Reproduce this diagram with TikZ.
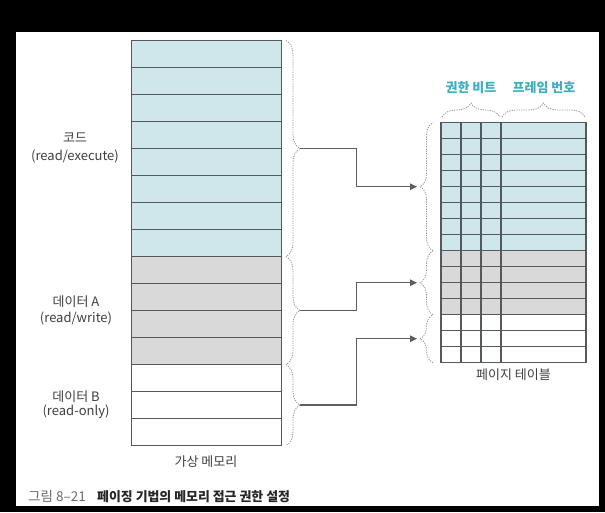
\documentclass[tikz,border=0pt]{standalone}
\usepackage{fontspec}
\setmainfont{Noto Sans CJK KR}
\usetikzlibrary{decorations.pathreplacing,arrows.meta}
\definecolor{cellblue}{HTML}{CFE6EA}
\definecolor{cellgray}{HTML}{D9D9D9}
\definecolor{gridline}{HTML}{535A5E}
\definecolor{labelteal}{HTML}{3AAFC2}
\definecolor{txtgray}{HTML}{3F3F3F}
\definecolor{capgray}{HTML}{6A6A6A}
\definecolor{arrgray}{HTML}{5E5E5E}
\definecolor{bracegray}{HTML}{939393}
\tikzset{
  gridl/.style={draw=gridline, line width=1.3pt},
  dbrace/.style={draw=bracegray, line width=0.8pt, dash pattern=on 1.2pt off 1.2pt,
    decorate, decoration={brace, amplitude=#1}},
  conn/.style={draw=arrgray, line width=1.3pt, -{Triangle[length=7pt,width=6.5pt]}},
  lbl/.style={inner sep=0pt, text=txtgray, font=\fontsize{13}{15}\selectfont},
  hdr/.style={inner sep=0pt, text=labelteal, font=\fontsize{13}{15}\selectfont\bfseries},
  capn/.style={inner sep=0pt, anchor=west, text=capgray, font=\fontsize{13.5}{15}\selectfont},
  capt/.style={inner sep=0pt, anchor=west, text=black!85, font=\fontsize{12.9}{15}\selectfont\bfseries}
}
\begin{document}
\begin{tikzpicture}[x=1pt,y=-1pt]
\fill[black] (0,0) rectangle (605,512);
\fill[white] (16,32) rectangle (599,506);
\useasboundingbox (0,0) rectangle (605,512);
% virtual memory
\fill[cellblue] (131.5,40.5) rectangle (281.5,256.5);
\fill[cellgray] (131.5,256.5) rectangle (281.5,364.5);
\foreach \i in {1,...,14} \draw[gridl] (131.5,{40.5+27*\i}) -- (281.5,{40.5+27*\i});
\draw[gridl] (131.5,40.5) rectangle (281.5,445.5);
% page table
\fill[cellblue] (441,122.7) rectangle (586,250.7);
\fill[cellgray] (441,250.7) rectangle (586,314.7);
\foreach \i in {1,...,14} \draw[gridl] (441,{122.7+16*\i}) -- (586,{122.7+16*\i});
\foreach \x in {461,481,501} \draw[gridl] (\x,122.7) -- (\x,362.7);
\draw[gridl] (441,122.7) rectangle (586,362.7);
% braces
\draw[dbrace=14pt] (286,40.5) -- (286,256.5);
\draw[dbrace=14pt] (286,256.5) -- (286,364.5);
\draw[dbrace=14pt] (286,364.5) -- (286,445.5);
\draw[dbrace=13pt] (433,250.7) -- (433,122.7);
\draw[dbrace=13pt] (433,314.7) -- (433,250.7);
\draw[dbrace=13pt] (433,362.7) -- (433,314.7);
\draw[dbrace=14pt] (442,117) -- (500,117);
\draw[dbrace=14pt] (502,117) -- (585,117);
% connectors
\coordinate (mc) at (300,148.5);
\coordinate (mA) at (300,310.5);
\coordinate (mB) at (300,405);
\coordinate (pc) at (417,186.7);
\coordinate (pA) at (417,282.7);
\coordinate (pB) at (417,338.7);
\draw[conn] (mc) -- ++(56.5,0) |- (pc);
\draw[conn] (mA) -- ++(56.5,0) |- (pA);
\draw[conn] (mB) -- ++(56.5,0) |- (pB);
% labels
\node[lbl] (code) at (75,137.5) {코드};
\node[lbl] (codeperm) at (75,156.5) {(read/execute)};
\node[lbl] (dataa) at (76,301.5) {데이터 A};
\node[lbl] (dataaperm) at (76,318.5) {(read/write)};
\node[lbl] (datab) at (76,396.5) {데이터 B};
\node[lbl] (databperm) at (76,412) {(read-only)};
\node[lbl] (vmem) at (206,461.5) {가상 메모리};
\node[lbl] (ptab) at (513.5,375) {페이지 테이블};
\node[hdr] (perm) at (471,88) {권한 비트};
\node[hdr] (frame) at (544,88) {프레임 번호};
\node[capn] (capnum) at (28,496.5) {그림 8–21};
\node[capt] (captxt) at (97,496.5) {페이징 기법의 메모리 접근 권한 설정};
\end{tikzpicture}
\end{document}
